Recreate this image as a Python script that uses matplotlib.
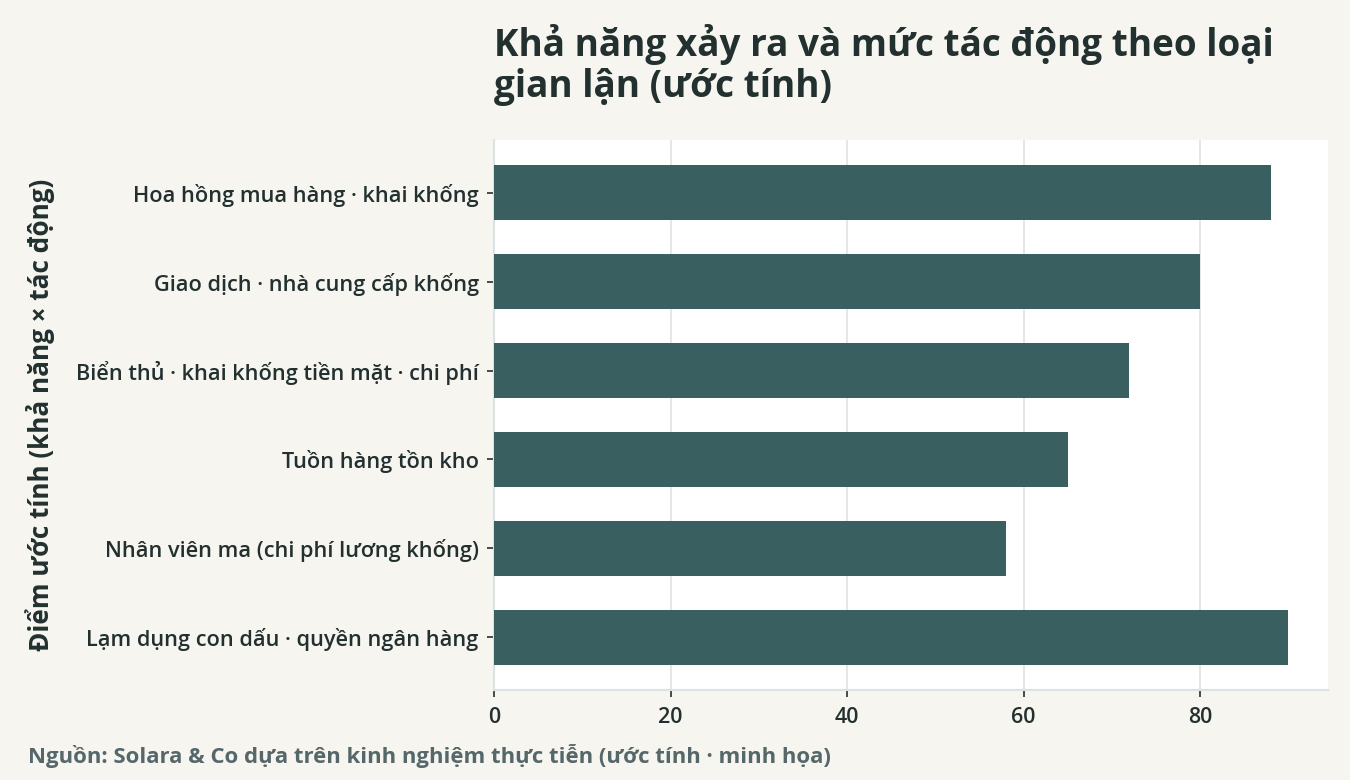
import matplotlib
matplotlib.use("Agg")
import matplotlib.pyplot as plt

categories = [
    "Hoa hồng mua hàng · khai khống",
    "Giao dịch · nhà cung cấp khống",
    "Biển thủ · khai khống tiền mặt · chi phí",
    "Tuồn hàng tồn kho",
    "Nhân viên ma (chi phí lương khống)",
    "Lạm dụng con dấu · quyền ngân hàng",
]
scores = [88, 80, 72, 65, 58, 90]
xticks = [0, 20, 40, 60, 80]

title = "Khả năng xảy ra và mức tác động theo loại\ngian lận (ước tính)"
ylabel = "Điểm ước tính (khả năng × tác động)"
caption = "Nguồn: Solara & Co dựa trên kinh nghiệm thực tiễn (ước tính · minh họa)"

BG = "#f6f5f0"
BAR = "#3a5f60"
TXT = "#22302f"
GRID = "#dde3e3"
CAP = "#56676a"

plt.rcParams['font.family'] = ['Open Sans', 'DejaVu Sans']

fig = plt.figure(figsize=(13.5, 7.8), dpi=100, facecolor=BG)
ax = fig.add_axes([0.366, 0.1154, 0.6177, 0.7051])
ax.set_facecolor("white")

ypos = list(range(len(categories)))
ax.barh(ypos, scores, height=0.62, color=BAR, zorder=3)
ax.set_yticks(ypos)
ax.set_yticklabels(categories)
ax.invert_yaxis()
ax.set_xlim(0, 94.5)
ax.set_xticks(xticks)
ax.set_xticklabels([str(t) for t in xticks])

ax.grid(axis='x', color=GRID, linewidth=1.2, zorder=0)
ax.grid(axis='y', visible=False)
for s in ['top', 'right']:
    ax.spines[s].set_visible(False)
for s in ['left', 'bottom']:
    ax.spines[s].set_color(GRID)
    ax.spines[s].set_linewidth(1.5)

ax.tick_params(axis='y', length=5, width=1.2, color=TXT, pad=6, labelsize=15.7, labelcolor=TXT)
ax.tick_params(axis='x', length=5, width=1.2, color=TXT, pad=7, labelsize=15.5, labelcolor=TXT)
for lab in ax.get_yticklabels() + ax.get_xticklabels():
    lab.set_fontweight('semibold')

fig.text(0.366, 1 - 24 / 780, title, ha='left', va='top', fontsize=26.6,
         fontweight='bold', color=TXT, linespacing=1.12)
fig.text(40 / 1350, 1 - 415 / 780, ylabel, rotation=90, ha='center', va='center',
         fontsize=18.8, fontweight='bold', color=TXT)
fig.text(28 / 1350, 1 - 756 / 780, caption, ha='left', va='center',
         fontsize=15.9, fontweight='bold', color=CAP)

fig.savefig("out.png", dpi=100, facecolor=BG)
